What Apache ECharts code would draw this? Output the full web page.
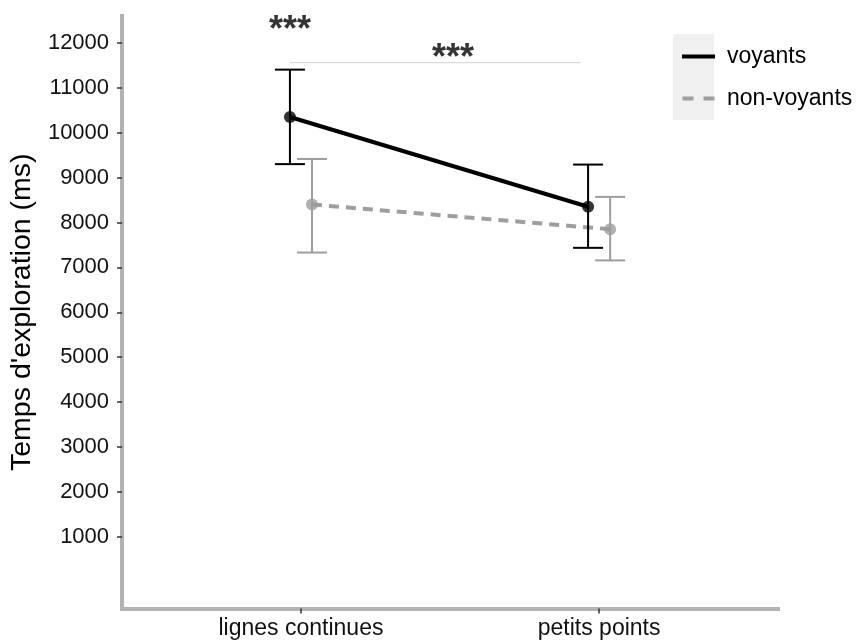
<!DOCTYPE html>
<html><head><meta charset="utf-8">
<script src="https://cdn.jsdelivr.net/npm/echarts@6/dist/echarts.min.js"></script>
<style>html,body{margin:0;padding:0;background:#fff}#c{width:856px;height:644px}</style>
</head><body><div id="c"></div>
<script>
// ---- data ----
const categories = ['lignes continues', 'petits points'];
const seriesNames = ['voyants', 'non-voyants'];
const voyantsMean = [10350, 8350];
const voyantsLow = [9300, 7435];
const voyantsHigh = [11405, 9290];
const nonVoyantsMean = [8400, 7850];
const nonVoyantsLow = [7330, 7155];
const nonVoyantsHigh = [9415, 8570];
const yTicks = [1000, 2000, 3000, 4000, 5000, 6000, 7000, 8000, 9000, 10000, 11000, 12000];
const yAxisTitle = "Temps d'exploration (ms)";
const sigBracketY = [11560];
const sigBracketX = [0.963, 1.938];
const starLabels = ['***', '***'];
const starX = [0.963, 1.51];
const starY = [12260, 11650];

// ---- layout / style constants ----
const DODGE = 0.037;
const FONT = 'Liberation Sans, Arial, sans-serif';
const colors = ['#000000', '#9e9e9e'];

const chart = echarts.init(document.getElementById('c'), null, {renderer: 'canvas'});

function pts(means, off) {
  return means.map((v, i) => [i + 1 + off, v]);
}
function bars(lows, highs, off) {
  return lows.map((v, i) => [i + 1 + off, v, highs[i]]);
}
function errRender(color) {
  return function (params, api) {
    const x = api.value(0);
    const lo = api.coord([x, api.value(1)]);
    const hi = api.coord([x, api.value(2)]);
    const w = 15;
    const st = {stroke: color, lineWidth: 2};
    return {type: 'group', children: [
      {type: 'line', shape: {x1: lo[0], y1: lo[1], x2: hi[0], y2: hi[1]}, style: st},
      {type: 'line', shape: {x1: lo[0] - w, y1: lo[1], x2: lo[0] + w, y2: lo[1]}, style: st},
      {type: 'line', shape: {x1: hi[0] - w, y1: hi[1], x2: hi[0] + w, y2: hi[1]}, style: st}
    ]};
  };
}

const option = {
  animation: false,
  textStyle: {fontFamily: FONT},
  grid: {left: 121, right: 78, top: 16, bottom: 35.5, containLabel: false},
  legend: {
    orient: 'vertical', left: 677, top: 40,
    itemWidth: 33, itemHeight: 4, itemGap: 19,
    data: [
      {name: seriesNames[0], icon: 'rect'},
      {name: seriesNames[1], icon: 'path://M0,0H11V4H0Z M21,0H32V4H21Z'}
    ],
    textStyle: {fontSize: 23, color: '#000', fontFamily: FONT, padding: [0, 0, 0, 7], lineHeight: 23},
    selectedMode: false
  },
  graphic: [
    {type: 'rect', left: 673, top: 34, shape: {width: 41, height: 86}, style: {fill: '#f0f0f0'}, z: -1, silent: true}
  ],
  xAxis: {
    type: 'value', min: 0.4, max: 2.6,
    axisLine: {onZero: false, lineStyle: {color: '#b3b3b3', width: 4, cap: 'square'}},
    axisTick: {customValues: [1, 2], length: 5, lineStyle: {color: '#333', width: 1.5}},
    axisLabel: {customValues: [1, 2], formatter: v => categories[Math.round(v) - 1], fontSize: 23, color: '#111', margin: 9, fontFamily: FONT},
    splitLine: {show: false}
  },
  yAxis: {
    type: 'value', min: -600, max: 12600,
    name: yAxisTitle, nameLocation: 'middle', nameGap: 84, nameRotate: 90,
    nameTextStyle: {fontSize: 28.5, color: '#000', fontFamily: FONT},
    axisLine: {onZero: false, lineStyle: {color: '#b3b3b3', width: 4, cap: 'square'}},
    axisTick: {customValues: yTicks, length: 5, lineStyle: {color: '#333', width: 1.5}},
    axisLabel: {customValues: yTicks, formatter: v => String(v), fontSize: 22, color: '#111', margin: 13, fontFamily: FONT},
    splitLine: {show: false}
  },
  series: [
    {
      name: 'sig', type: 'line', silent: true, symbol: 'none',
      data: [[sigBracketX[0], sigBracketY[0]], [sigBracketX[1], sigBracketY[0]]],
      lineStyle: {color: '#d0d0d0', width: 1}, z: 1
    },
    {
      name: 'stars', type: 'scatter', silent: true, symbolSize: 0,
      data: starX.map((x, i) => [x, starY[i]]),
      label: {show: true, position: 'inside', formatter: p => starLabels[p.dataIndex], fontSize: 36, fontWeight: 'bold', color: '#000', fontFamily: FONT}
    },
    {
      name: 'errNV', type: 'custom', silent: true,
      data: bars(nonVoyantsLow, nonVoyantsHigh, DODGE),
      encode: {x: 0, y: [1, 2]}, renderItem: errRender(colors[1]), z: 2
    },
    {
      name: seriesNames[1], type: 'line', data: pts(nonVoyantsMean, DODGE),
      symbol: 'none', color: colors[1],
      lineStyle: {color: colors[1], width: 4, type: [10, 7]}, z: 3
    },
    {
      name: 'ptNV', type: 'scatter', data: pts(nonVoyantsMean, DODGE),
      symbolSize: 12, itemStyle: {color: colors[1]}, z: 4
    },
    {
      name: 'errV', type: 'custom', silent: true,
      data: bars(voyantsLow, voyantsHigh, -DODGE),
      encode: {x: 0, y: [1, 2]}, renderItem: errRender(colors[0]), z: 5
    },
    {
      name: seriesNames[0], type: 'line', data: pts(voyantsMean, -DODGE),
      symbol: 'none', color: colors[0],
      lineStyle: {color: colors[0], width: 4}, z: 6
    },
    {
      name: 'ptV', type: 'scatter', data: pts(voyantsMean, -DODGE),
      symbolSize: 12, itemStyle: {color: colors[0]}, z: 7
    }
  ]
};
chart.setOption(option);
</script>
</body></html>
